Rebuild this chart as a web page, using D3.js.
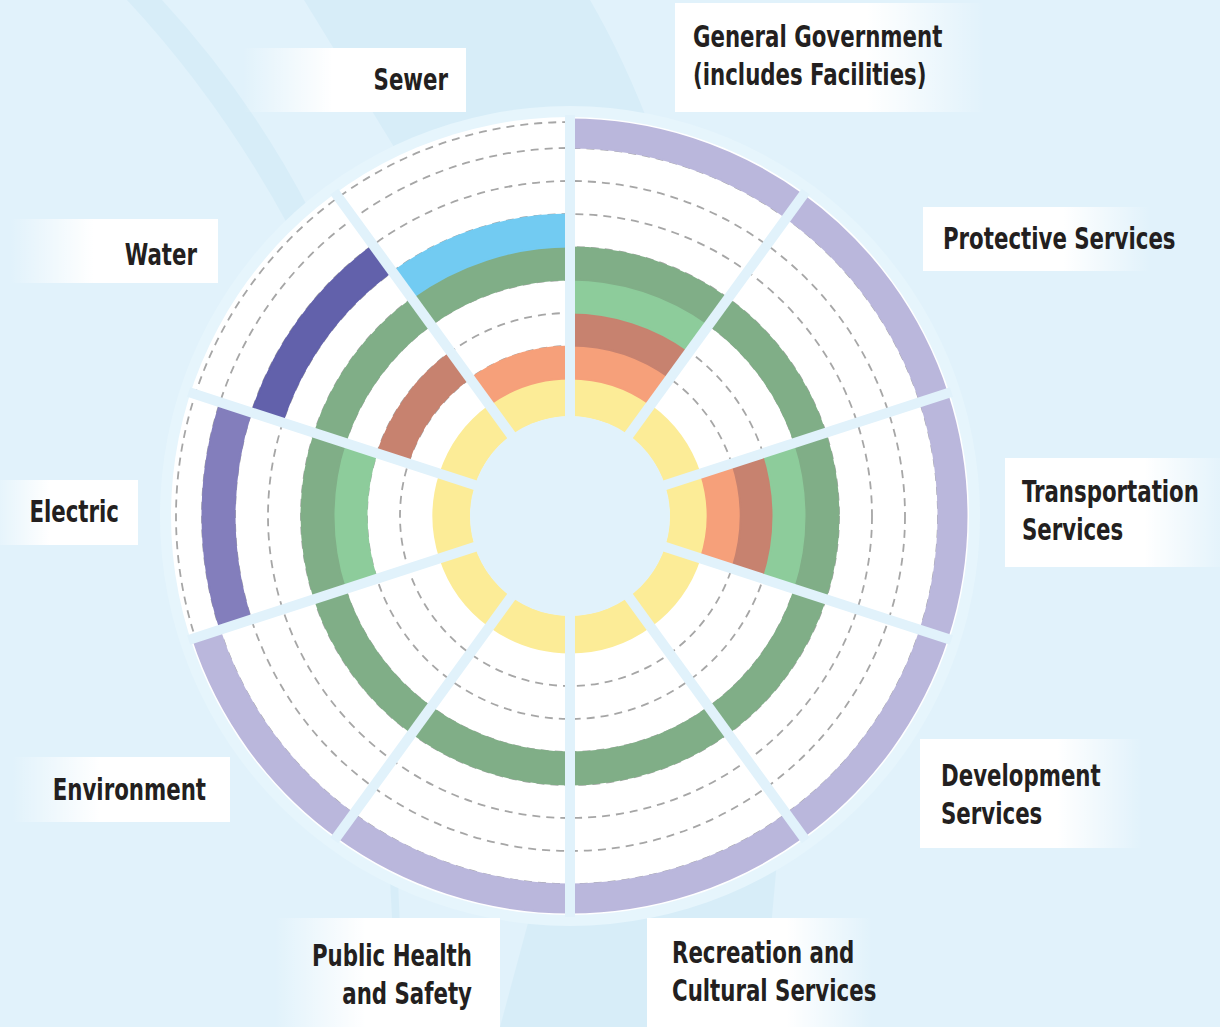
<!DOCTYPE html>
<html><head><meta charset="utf-8">
<script src="https://cdn.jsdelivr.net/npm/d3@7"></script>
<style>html,body{margin:0;padding:0;background:#E1F2FB;} svg{display:block}</style>
</head><body>
<svg id="chart" width="1220" height="1027"></svg>
<script>
// ---------- DATA ----------
const categories = [
  "General Government (includes Facilities)", "Protective Services", "Transportation Services",
  "Development Services", "Recreation and Cultural Services", "Public Health and Safety",
  "Environment", "Electric", "Water", "Sewer"
];
const labelLines = [
  ["General Government", "(includes Facilities)"], ["Protective Services"], ["Transportation", "Services"],
  ["Development", "Services"], ["Recreation and", "Cultural Services"], ["Public Health", "and Safety"],
  ["Environment"], ["Electric"], ["Water"], ["Sewer"]
];
// ring level (0 = innermost) and whether each category has that ring (1) or not (0)
const ringLevels = [0, 1, 2, 3, 4, 5, 6, 7, 8];
const ring0 = [1, 1, 1, 1, 1, 1, 1, 1, 1, 1];
const ring1 = [1, 0, 1, 0, 0, 0, 0, 0, 0, 1];
const ring2 = [1, 0, 1, 0, 0, 0, 0, 0, 1, 0];
const ring3 = [1, 0, 1, 0, 0, 0, 0, 1, 0, 0];
const ring4 = [1, 1, 1, 1, 1, 1, 1, 1, 1, 1];
const ring5 = [0, 0, 0, 0, 0, 0, 0, 0, 0, 1];
const ring6 = [0, 0, 0, 0, 0, 0, 0, 0, 1, 0];
const ring7 = [0, 0, 0, 0, 0, 0, 0, 1, 0, 0];
const ring8 = [1, 1, 1, 1, 1, 1, 1, 0, 0, 0];
const gridLevels = [2, 3, 4, 5, 6, 7, 8];

// ---------- STYLE / LAYOUT ----------
const ringColors = ["#FCEC97", "#F6A07A", "#C7826F", "#8DCC9B", "#80AE87", "#72CBF2", "#6261AB", "#837EBC", "#BAB7DC"];
const ringMembership = [ring0, ring1, ring2, ring3, ring4, ring5, ring6, ring7, ring8];
// label boxes: x, y, w, h, fade side, text x, first baseline
const labelLayout = [
  {x: 675, y: 3, w: 310, h: 109, fade: "right", tx: 693, ty: 47},
  {x: 923, y: 207, w: 227, h: 64, fade: "right", tx: 943, ty: 249},
  {x: 1005, y: 458, w: 225, h: 109, fade: "right", tx: 1022, ty: 502},
  {x: 920, y: 739, w: 222, h: 109, fade: "right", tx: 941, ty: 786},
  {x: 647, y: 918, w: 225, h: 115, fade: "right", tx: 672, ty: 963},
  {x: 275, y: 918, w: 225, h: 115, fade: "left", tx: 472, ty: 966},
  {x: 12, y: 757, w: 218, h: 65, fade: "left", tx: 206, ty: 800},
  {x: -10, y: 480, w: 148, h: 65, fade: "left", tx: 119, ty: 522},
  {x: 10, y: 219, w: 208, h: 64, fade: "left", tx: 197, ty: 265},
  {x: 243, y: 48, w: 223, h: 64, fade: "left", tx: 448, ty: 90}
];
const textSqueeze = 0.79;
const bg = "#E1F2FB";
const W = 1220, H = 1027, cx = 570, cy = 516;

const svg = d3.select("#chart");
const defs = svg.append("defs");
const gl = defs.append("linearGradient").attr("id", "fadeLeft").attr("x1", 0).attr("x2", 1).attr("y1", 0).attr("y2", 0);
gl.append("stop").attr("offset", 0).attr("stop-color", "#fff").attr("stop-opacity", 0);
gl.append("stop").attr("offset", 0.4).attr("stop-color", "#fff").attr("stop-opacity", 1);
gl.append("stop").attr("offset", 1).attr("stop-color", "#fff").attr("stop-opacity", 1);
const gr = defs.append("linearGradient").attr("id", "fadeRight").attr("x1", 0).attr("x2", 1).attr("y1", 0).attr("y2", 0);
gr.append("stop").attr("offset", 0).attr("stop-color", "#fff").attr("stop-opacity", 1);
gr.append("stop").attr("offset", 0.62).attr("stop-color", "#fff").attr("stop-opacity", 1);
gr.append("stop").attr("offset", 1).attr("stop-color", "#fff").attr("stop-opacity", 0);

// background
svg.append("rect").attr("width", W).attr("height", H).attr("fill", bg);
const deco = svg.append("g").attr("fill", "#D7EDF8");
deco.append("path").attr("d", "M127,0 Q220,100 288,225 L312,215 Q250,95 162,0 Z");
deco.append("path").attr("d", "M304,0 Q350,75 405,165 L570,320 L655,140 Q625,60 590,0 Z");
deco.append("path").attr("d", "M545,860 L500,1027 L762,1027 L778,850 Z");
deco.append("path").attr("d", "M390,880 L398,1027 L404,1027 L398,880 Z");

// scales
const radius = d3.scaleLinear().domain([0, 1, 8, 9]).range([100, 137, 368, 397]);
const angle = d3.scaleBand().domain(categories).range([0, 2 * Math.PI]);

const g = svg.append("g").attr("transform", `translate(${cx},${cy})`);
g.append("circle").attr("r", 410).attr("fill", "#E6F5FC");
g.append("circle").attr("r", 399).attr("fill", "#fff");

// dashed grid circles
const gridR = gridLevels.map(l => radius(l)).concat([radius(9) - 3]);
g.selectAll("circle.grid").data(gridR).enter().append("circle")
  .attr("class", "grid").attr("r", d => d).attr("fill", "none")
  .attr("stroke", "#A6A6A6").attr("stroke-width", 1.8).attr("stroke-dasharray", "8,6");

// ring arcs
const arc = d3.arc();
const segs = [];
ringLevels.forEach((lvl, ri) => {
  ringMembership[ri].forEach((v, ci) => {
    if (v) segs.push({lvl, ci, color: ringColors[ri]});
  });
});
g.selectAll("path.seg").data(segs).enter().append("path")
  .attr("class", "seg")
  .attr("fill", d => d.color)
  .attr("stroke", d => d.color).attr("stroke-width", 2)
  .attr("d", d => arc({
    innerRadius: radius(d.lvl) + 0.5, outerRadius: radius(d.lvl + 1) - 0.5,
    startAngle: angle(categories[d.ci]), endAngle: angle(categories[d.ci]) + angle.bandwidth()
  }));

// separators
g.selectAll("line.sep").data(categories).enter().append("line")
  .attr("class", "sep")
  .attr("x1", 0).attr("y1", 0)
  .attr("x2", d => 401 * Math.sin(angle(d)))
  .attr("y2", d => -401 * Math.cos(angle(d)))
  .attr("stroke", bg).attr("stroke-width", 10);
g.append("circle").attr("r", radius(0)).attr("fill", bg);

// labels
const lab = svg.append("g");
categories.forEach((c, i) => {
  const L = labelLayout[i];
  lab.append("rect").attr("x", L.x).attr("y", L.y).attr("width", L.w).attr("height", L.h)
    .attr("fill", L.fade === "left" ? "url(#fadeLeft)" : "url(#fadeRight)");
  const t = lab.append("text")
    .attr("x", L.tx).attr("y", L.ty)
    .attr("transform", `translate(${L.tx},0) scale(${textSqueeze},1) translate(${-L.tx},0)`)
    .attr("text-anchor", L.fade === "left" ? "end" : "start")
    .attr("font-family", "'Liberation Sans Narrow','Arial Narrow','DejaVu Sans Condensed',sans-serif")
    .attr("font-weight", "bold").attr("font-size", 30).attr("fill", "#231F20");
  labelLines[i].forEach((ln, k) => {
    t.append("tspan").attr("x", L.tx).attr("y", L.ty + k * 38).text(ln);
  });
});
</script>
</body></html>
